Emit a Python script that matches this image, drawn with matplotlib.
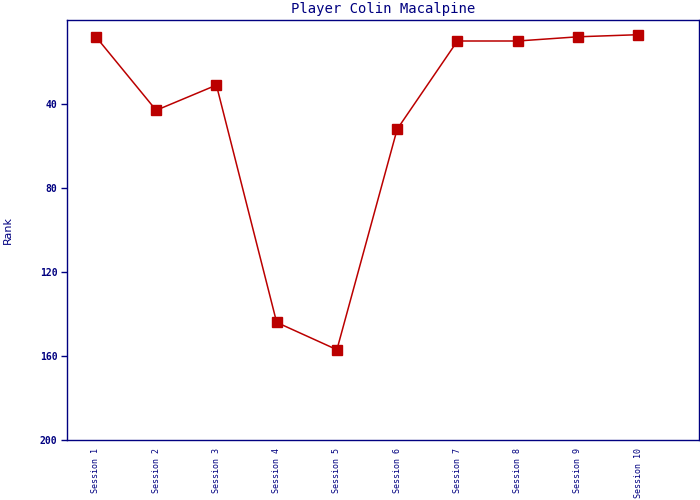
import matplotlib
matplotlib.use("Agg")
import matplotlib.pyplot as plt

sessions = ["Session 1", "Session 2", "Session 3", "Session 4", "Session 5",
            "Session 6", "Session 7", "Session 8", "Session 9", "Session 10"]
ranks = [8, 43, 31, 144, 157, 52, 10, 10, 8, 7]
yticks = [40, 80, 120, 160, 200]

navy = "#000080"
red = "#BB0000"

fig = plt.figure(figsize=(7, 5), dpi=100)
ax = fig.add_axes([67/700, 60/500, 632/700, 420/500])

x = list(range(1, len(sessions) + 1))
ax.plot(x, ranks, color=red, linewidth=1.1, marker="s", markersize=6.5,
        markerfacecolor=red, markeredgecolor=red)

ax.set_xlim(0.52, 11.01)
ax.set_ylim(200, 0)
ax.set_yticks(yticks)
ax.set_yticklabels([str(t) for t in yticks], family="DejaVu Sans Mono",
                   fontsize=7, color=navy, fontweight="bold")
ax.set_xticks(x)
ax.set_xticklabels(sessions, rotation=90, family="DejaVu Sans Mono",
                   fontsize=6, color=navy, va="top")
ax.tick_params(axis="x", length=0, pad=6)
ax.tick_params(axis="y", length=4, width=1, color=navy, pad=3)
for s in ax.spines.values():
    s.set_color(navy)
    s.set_linewidth(1)

ax.set_ylabel("Rank", color=navy, fontsize=8, family="DejaVu Sans")
ax.yaxis.set_label_coords(-0.085, 0.5)
ax.set_title("Player Colin Macalpine", color=navy, fontsize=10,
             family="DejaVu Sans Mono", pad=5)

fig.savefig("out.png", dpi=100)
